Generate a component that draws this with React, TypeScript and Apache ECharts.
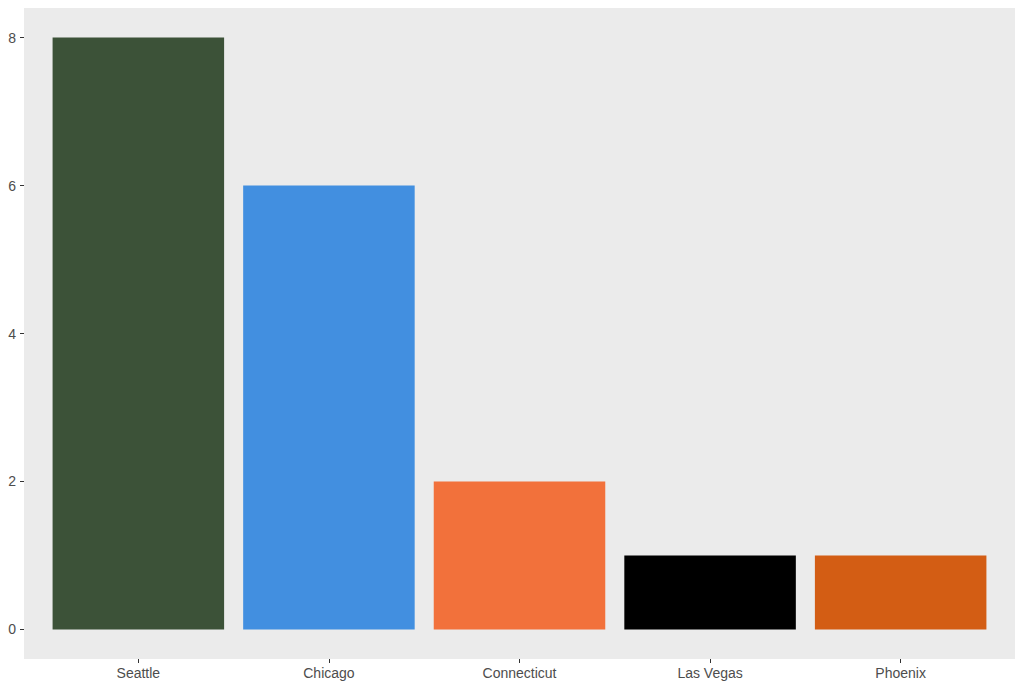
import React, { useEffect, useRef } from "react";
import * as echarts from "echarts";

const categories = ["Seattle", "Chicago", "Connecticut", "Las Vegas", "Phoenix"];
const values = [8, 6, 2, 1, 1];
const barColors = ["#3C5238", "#428FE0", "#F2713B", "#000000", "#D35D14"];
const yTicks = [0, 2, 4, 6, 8];
const xPositions = [1, 2, 3, 4, 5];

export default function App() {
  const ref = useRef<HTMLDivElement>(null);
  useEffect(() => {
    if (!ref.current) return;
    const chart = echarts.init(ref.current, null, { renderer: "svg" });
    const labelStyle = {
      color: "#4D4D4D",
      fontFamily: "Liberation Sans, Arial, sans-serif",
      fontSize: 14,
    };
    const BAR_HALF = 0.45;
    chart.setOption({
      animation: false,
      backgroundColor: "#FFFFFF",
      grid: {
        left: 24,
        right: 9,
        top: 8,
        bottom: 30,
        show: true,
        backgroundColor: "#EBEBEB",
        borderWidth: 0,
      },
      xAxis: {
        type: "value",
        min: 0.4,
        max: 5.6,
        axisLine: { show: false, onZero: false },
        splitLine: { show: false },
        axisTick: {
          show: true,
          customValues: xPositions,
          length: 4,
          lineStyle: { color: "#333333", width: 1 },
        },
        axisLabel: {
          ...labelStyle,
          customValues: xPositions,
          margin: 7,
          formatter: (v: number) => categories[Math.round(v) - 1] ?? "",
        },
      },
      yAxis: {
        type: "value",
        min: -0.4,
        max: 8.4,
        axisLine: { show: false, onZero: false },
        splitLine: { show: false },
        axisTick: {
          show: true,
          customValues: yTicks,
          length: 4,
          lineStyle: { color: "#333333", width: 1 },
        },
        axisLabel: {
          ...labelStyle,
          customValues: yTicks,
          margin: 8,
        },
      },
      series: [
        {
          type: "custom",
          data: categories.map((c, i) => [xPositions[i], values[i]]),
          renderItem: (params: any, api: any) => {
            const x = api.value(0);
            const y = api.value(1);
            const p0 = api.coord([x - BAR_HALF, y]);
            const p1 = api.coord([x + BAR_HALF, 0]);
            return {
              type: "rect",
              shape: {
                x: p0[0],
                y: p0[1],
                width: p1[0] - p0[0],
                height: p1[1] - p0[1],
              },
              style: { fill: barColors[params.dataIndex] },
            };
          },
        },
      ],
    });
    return () => chart.dispose();
  }, []);
  return (
    <div
      ref={ref}
      style={{ position: "fixed", left: 0, top: 0, width: 1024, height: 689 }}
    />
  );
}
